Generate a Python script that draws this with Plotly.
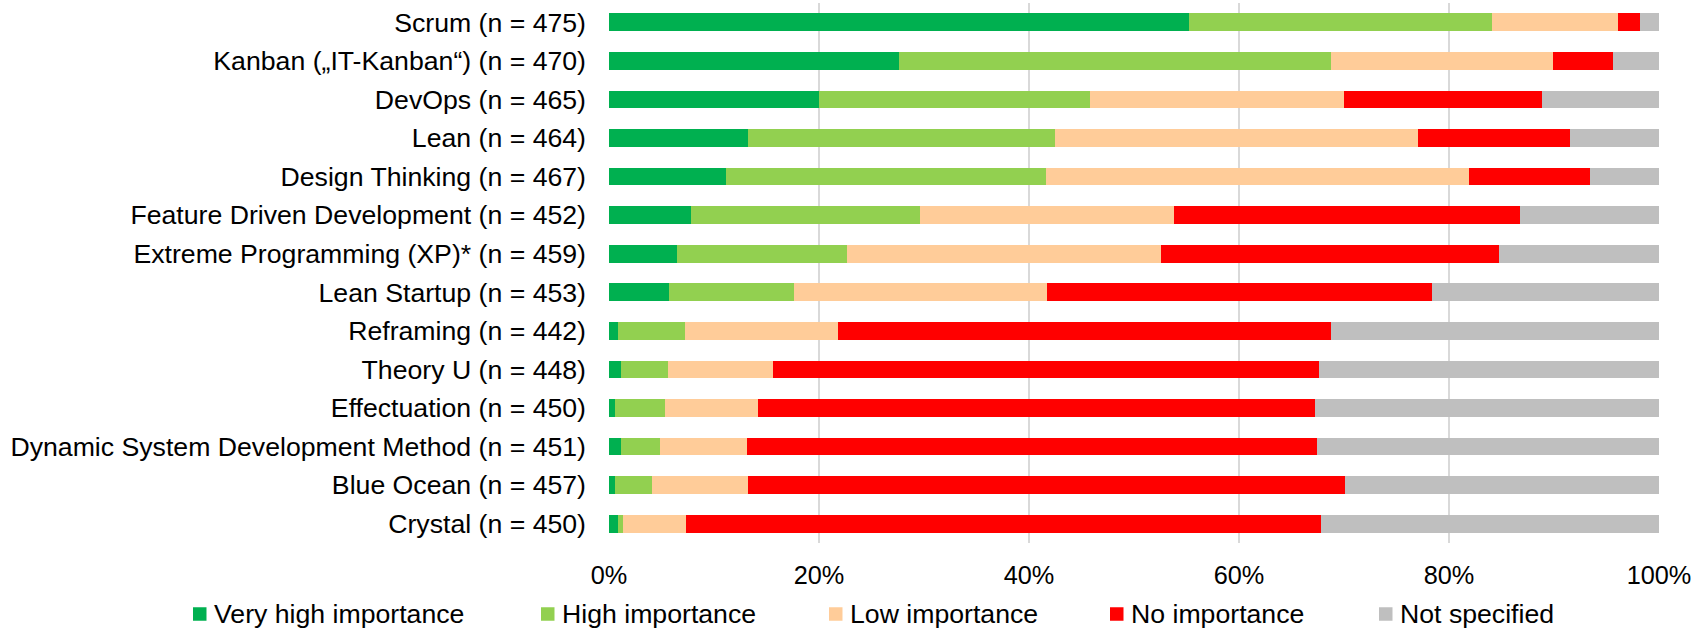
import plotly.graph_objects as go

categories = [
    "Scrum (n = 475)",
    "Kanban („IT-Kanban“) (n = 470)",
    "DevOps (n = 465)",
    "Lean (n = 464)",
    "Design Thinking (n = 467)",
    "Feature Driven Development (n = 452)",
    "Extreme Programming (XP)* (n = 459)",
    "Lean Startup (n = 453)",
    "Reframing (n = 442)",
    "Theory U (n = 448)",
    "Effectuation (n = 450)",
    "Dynamic System Development Method (n = 451)",
    "Blue Ocean (n = 457)",
    "Crystal (n = 450)",
]

very_high = [55.2, 27.6, 20.0, 13.2, 11.1, 7.8, 6.5, 5.7, 0.9, 1.1, 0.6, 1.1, 0.6, 0.9]
high = [28.9, 41.2, 25.8, 29.3, 30.5, 21.8, 16.2, 11.9, 6.3, 4.5, 4.7, 3.8, 3.5, 0.4]
low = [12.0, 21.1, 24.2, 34.5, 40.3, 24.2, 29.9, 24.1, 14.6, 10.0, 8.9, 8.2, 9.1, 6.0]
no_imp = [2.1, 5.7, 18.9, 14.5, 11.5, 33.0, 32.2, 36.7, 47.0, 52.0, 53.0, 54.3, 56.9, 60.5]
not_spec = [1.8, 4.4, 11.1, 8.5, 6.6, 13.2, 15.2, 21.6, 31.2, 32.4, 32.8, 32.6, 29.9, 32.2]

series_names = ["Very high importance", "High importance", "Low importance", "No importance", "Not specified"]
series_values = [very_high, high, low, no_imp, not_spec]
series_colors = ["#00B050", "#92D050", "#FFCC99", "#FF0000", "#BFBFBF"]

tick_vals = [0, 20, 40, 60, 80, 100]
tick_text = ["0%", "20%", "40%", "60%", "80%", "100%"]

FONT = "Arial, Liberation Sans, sans-serif"
W, H = 1706, 628
ML, MR, MT, MB = 609, 47, 3, 85

fig = go.Figure()
for name, vals, col in zip(series_names, series_values, series_colors):
    fig.add_trace(go.Bar(
        y=categories, x=vals, name=name, orientation="h",
        marker=dict(color=col, line=dict(width=0)),
        showlegend=False,
    ))

# manual legend (Excel-style spacing)
legend_x = [193, 541, 829, 1110, 1379]
legend_y = 614
pw = W - ML - MR
ph = H - MT - MB
def px2paper_x(px):
    return (px - ML) / pw
def px2paper_y(py):
    return (H - MB - py) / ph

sq = 13.5
for name, col, lx in zip(series_names, series_colors, legend_x):
    fig.add_shape(type="rect", xref="paper", yref="paper",
                  x0=px2paper_x(lx), x1=px2paper_x(lx + sq),
                  y0=px2paper_y(legend_y + sq / 2), y1=px2paper_y(legend_y - sq / 2),
                  fillcolor=col, line=dict(width=0))
    fig.add_annotation(xref="paper", yref="paper", x=px2paper_x(lx + 19), y=px2paper_y(legend_y),
                       xanchor="left", yanchor="middle", showarrow=False, text=name,
                       font=dict(family=FONT, size=26.67, color="#000000"))

fig.update_layout(
    width=W, height=H,
    barmode="stack", bargap=0.54,
    margin=dict(l=ML, r=MR, t=MT, b=MB, autoexpand=False),
    paper_bgcolor="white", plot_bgcolor="white",
    font=dict(family=FONT, color="#000000"),
    xaxis=dict(range=[0, 100], tickvals=tick_vals, ticktext=tick_text,
               showgrid=True, gridcolor="#D9D9D9", gridwidth=1.5,
               zeroline=False, showline=False, ticks="",
               tickfont=dict(family=FONT, size=25.3, color="#000000"),
               ticklabelstandoff=15),
    yaxis=dict(autorange="reversed", showgrid=False, zeroline=False, showline=False,
               ticks="", tickfont=dict(family=FONT, size=26.67, color="#000000"),
               ticklabelstandoff=22),
)

fig.write_html("out.html", config={"displayModeBar": False},
               post_script="document.body.style.margin='0';document.body.style.padding='0';document.documentElement.style.overflow='hidden';")
